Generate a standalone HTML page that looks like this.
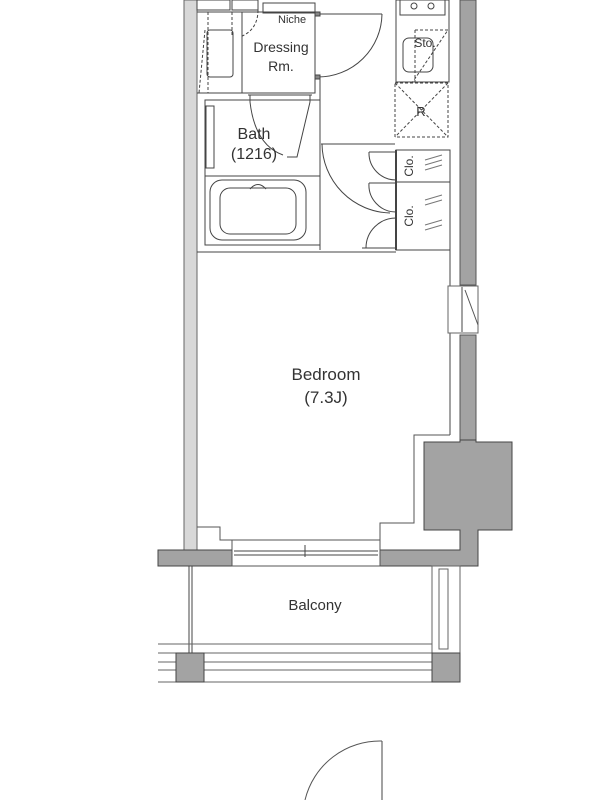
<!DOCTYPE html>
<html><head><meta charset="utf-8"><style>
html,body{margin:0;padding:0;background:#fff;width:600px;height:800px;overflow:hidden}
svg{display:block}
text{font-family:"Liberation Sans",sans-serif;fill:#333}
</style></head><body>
<svg width="600" height="800" viewBox="0 0 600 800" xmlns="http://www.w3.org/2000/svg">
<g fill="none" stroke="#444" stroke-width="1">
<!-- left wall -->
<rect x="184" y="0" width="13" height="550" fill="#d8d8d8" stroke="#666"/>
<!-- right wall upper -->
<rect x="460" y="0" width="16" height="285" fill="#a3a3a3" stroke="#555"/>
<rect x="460" y="335" width="16" height="110" fill="#a3a3a3" stroke="#555"/>
<line x1="450" y1="250" x2="450" y2="286"/>
<line x1="450" y1="333" x2="450" y2="435"/>
<!-- window in right wall -->
<rect x="448" y="286" width="30" height="47" fill="#fff" stroke="#666"/>
<line x1="462" y1="287" x2="462" y2="332"/>
<line x1="465" y1="290" x2="478" y2="325" stroke="#555"/>
<!-- big column -->
<path d="M424 442 H460 V440 H476 V442 H512 V530 H478 V566 H380 V550 H460 V530 H424 Z" fill="#a3a3a3" stroke="#444"/>
<!-- left bottom wall -->
<rect x="158" y="550" width="74" height="16" fill="#a3a3a3" stroke="#444"/>
<!-- bedroom inner outline -->
<path d="M450 435 H414 V523 H380 V540" stroke="#555"/>
<path d="M197 527 H220 V540 H232" stroke="#555"/>
<!-- window bottom -->
<rect x="232" y="540" width="148" height="26" fill="#fff" stroke="#555"/>
<line x1="234" y1="551" x2="378" y2="551"/>
<line x1="234" y1="555" x2="378" y2="555"/>
<line x1="305" y1="545" x2="305" y2="557"/>
<!-- balcony -->
<line x1="189" y1="566" x2="189" y2="653"/>
<line x1="192" y1="566" x2="192" y2="653"/>
<rect x="432" y="566" width="28" height="87" stroke="#666"/>
<rect x="439" y="569" width="9" height="80" stroke="#666"/>
<line x1="158" y1="644" x2="432" y2="644" stroke="#666"/>
<line x1="158" y1="653" x2="460" y2="653" stroke="#666"/>
<line x1="158" y1="662" x2="460" y2="662" stroke="#666"/>
<line x1="158" y1="670" x2="460" y2="670" stroke="#666"/>
<line x1="158" y1="682" x2="460" y2="682" stroke="#666"/>
<rect x="176" y="653" width="28" height="29" fill="#a3a3a3" stroke="#444"/>
<rect x="432" y="653" width="28" height="29" fill="#a3a3a3" stroke="#444"/>
<!-- bottom door -->
<line x1="382" y1="741" x2="382" y2="800"/>
<path d="M382 741 A 77 77 0 0 0 305 800" stroke="#555"/>
<!-- top left rooms -->
<rect x="197" y="0" width="33" height="10"/>
<rect x="232" y="0" width="26" height="10"/>
<rect x="263" y="3" width="52" height="10"/>
<line x1="197" y1="12" x2="315" y2="12"/>
<rect x="242" y="12" width="73" height="81"/>
<line x1="197" y1="93" x2="242" y2="93"/>
<rect x="207" y="30" width="26" height="47" rx="3"/>
<path d="M205 30 L199 93 M208 12 V93 M232 12 V35 M258 10 Q258 30 240 37" stroke-dasharray="3,2"/>
<!-- dressing door -->
<line x1="316" y1="14" x2="382" y2="14"/>
<path d="M382 14 A 64 64 0 0 1 318 77"/>
<rect x="315" y="12" width="5" height="4" fill="#888"/>
<rect x="315" y="75" width="5" height="4" fill="#888"/>
<!-- hallway wall -->
<line x1="320" y1="79" x2="320" y2="250"/>
<!-- bath -->
<rect x="205" y="100" width="115" height="145"/>
<rect x="206" y="106" width="8" height="62"/>
<line x1="205" y1="176" x2="320" y2="176"/>
<rect x="210" y="180" width="96" height="60" rx="12"/>
<rect x="220" y="188" width="76" height="46" rx="10"/>
<path d="M250 189 Q258 180 266 189"/>
<line x1="250" y1="95" x2="250" y2="102"/><line x1="310" y1="95" x2="310" y2="102"/>
<line x1="248" y1="95" x2="312" y2="95"/>
<path d="M250 102 Q255 145 283 155 M310 102 L297 157 L287 157"/>
<line x1="197" y1="252" x2="396" y2="252"/>
<!-- hallway door -->
<line x1="321" y1="144" x2="395" y2="144"/>
<path d="M322 144 A 70 70 0 0 0 390 213"/>
<!-- kitchen -->
<rect x="396" y="0" width="53" height="82"/>
<rect x="400" y="0" width="45" height="15"/>
<circle cx="414" cy="6" r="3"/><circle cx="431" cy="6" r="3"/>
<rect x="403" y="38" width="30" height="34" rx="6"/>
<rect x="395" y="83" width="53" height="54" stroke-dasharray="3,2"/>
<path d="M395 83 L448 137 M448 83 L395 137 M415 30 H448 L412 83 M415 30 V82" stroke-dasharray="3,2"/>
<!-- closets -->
<rect x="396" y="150" width="54" height="32"/>
<rect x="396" y="182" width="54" height="68"/>
<line x1="396" y1="150" x2="396" y2="250" stroke-width="2"/>
<line x1="369" y1="152" x2="396" y2="152"/><path d="M369 152 A 27 27 0 0 0 396 180"/>
<line x1="369" y1="183" x2="396" y2="183"/><path d="M369 183 A 27 27 0 0 0 396 212"/>
<line x1="362" y1="248" x2="396" y2="248"/><path d="M396 218 A 30 30 0 0 0 366 248"/>
<path d="M425 160 L442 155 M425 165 L442 160 M425 170 L442 165 M425 200 L442 195 M425 205 L442 200 M425 225 L442 220 M425 230 L442 225" stroke="#777"/>
</g>
<text x="278" y="23" font-size="11">Niche</text>
<text x="281" y="52" font-size="14" text-anchor="middle">Dressing</text>
<text x="281" y="71" font-size="14" text-anchor="middle">Rm.</text>
<text x="254" y="139" font-size="16" text-anchor="middle">Bath</text>
<text x="254" y="159" font-size="16" text-anchor="middle">(1216)</text>
<text x="425" y="47" font-size="12" text-anchor="middle">Sto.</text>
<text x="421" y="116" font-size="13" text-anchor="middle">R</text>
<text x="413" y="166" font-size="12" text-anchor="middle" transform="rotate(-90 413 166)">Clo.</text>
<text x="413" y="216" font-size="12" text-anchor="middle" transform="rotate(-90 413 216)">Clo.</text>
<text x="326" y="380" font-size="17" text-anchor="middle">Bedroom</text>
<text x="326" y="403" font-size="17" text-anchor="middle">(7.3J)</text>
<text x="315" y="610" font-size="15" text-anchor="middle">Balcony</text>
</svg>
</body></html>
